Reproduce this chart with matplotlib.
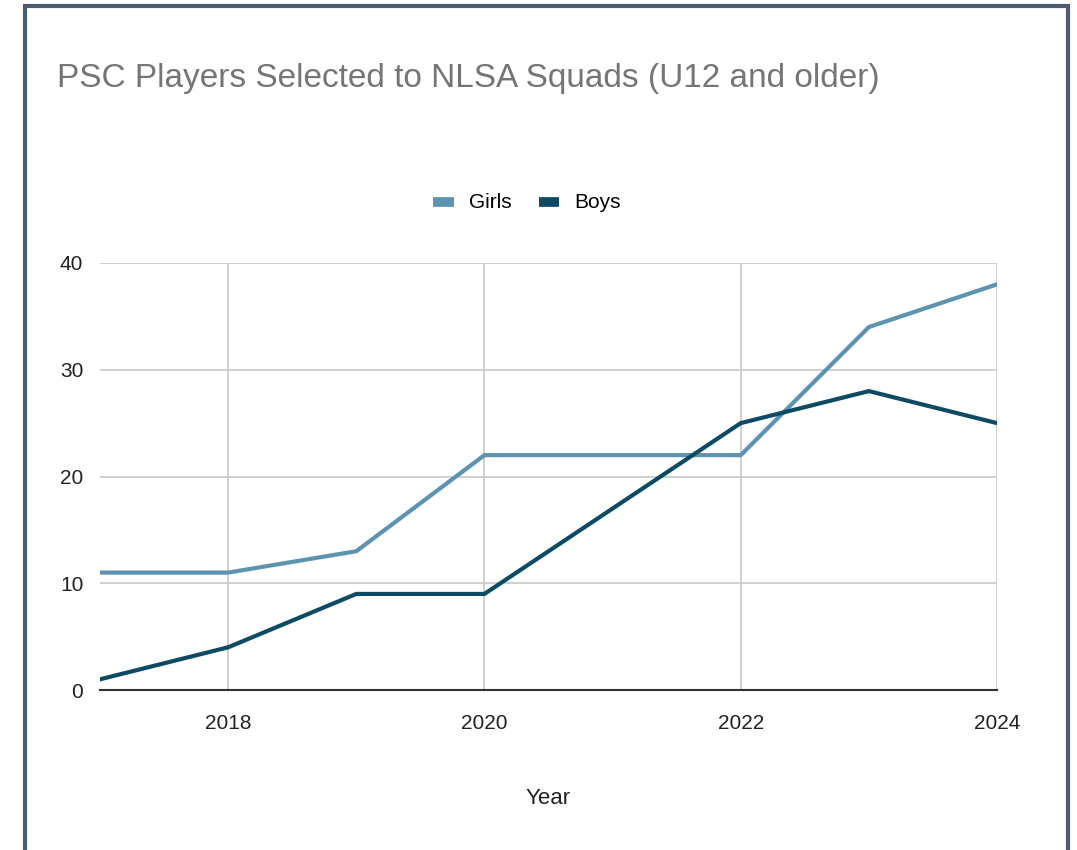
import matplotlib
matplotlib.use("Agg")
import matplotlib.pyplot as plt
from matplotlib.patches import Rectangle
from matplotlib import font_manager

years = [2017, 2018, 2019, 2020, 2021, 2022, 2023, 2024]
girls = [11, 11, 13, 22, 22, 22, 34, 38]
boys = [1, 4, 9, 9, 17, 25, 28, 25]
x_ticks = [2018, 2020, 2022, 2024]
y_ticks = [0, 10, 20, 30, 40]

names = {f.name for f in font_manager.fontManager.ttflist}
fam = ['Liberation Sans Narrow', 'Liberation Sans', 'DejaVu Sans']
fam = [f for f in fam if f in names] or ['DejaVu Sans']
plt.rcParams['font.family'] = fam

fig = plt.figure(figsize=(10.77, 8.5), dpi=100)
W, H = 1077, 850
ax = fig.add_axes([100 / W, 1 - 690 / H, 897 / W, 427 / H])

girls_c = '#5b93b1'
boys_c = '#0d4b64'
ax.plot(years, girls, color=girls_c, lw=3, label='Girls', solid_joinstyle='miter', zorder=3)
ax.plot(years, boys, color=boys_c, lw=3, label='Boys', solid_joinstyle='miter', zorder=4)

ax.set_xlim(2017, 2024)
ax.set_ylim(0, 40)
ax.set_xticks(x_ticks)
ax.set_yticks(y_ticks)
ax.grid(True, color='#cccccc', lw=1.3)
ax.set_axisbelow(True)
for s in ['top', 'right', 'left']:
    ax.spines[s].set_visible(False)
ax.spines['bottom'].set_color('#333333')
ax.spines['bottom'].set_linewidth(1.5)
ax.spines['bottom'].set_zorder(5)
ax.tick_params(length=0, labelsize=15, colors='#222222')
ax.tick_params(axis='x', pad=17)
ax.tick_params(axis='y', pad=12)
ax.set_xlabel('Year', fontsize=16, color='#222222', labelpad=40)

fig.text(57 / W, 1 - 79 / H, 'PSC Players Selected to NLSA Squads (U12 and older)',
         fontsize=24, color='#757575', ha='left', va='center')

leg = fig.legend(loc='center', bbox_to_anchor=(527 / W, 1 - 203 / H), ncol=2, frameon=False,
                 fontsize=15, handlelength=1.0, handleheight=0.6, columnspacing=1.3,
                 handletextpad=0.7)
for h in leg.get_lines():
    h.set_linewidth(7)
    h.set_solid_capstyle('butt')

fig.patches.append(Rectangle((25 / W, -0.1), (1068 - 25) / W, 1.1 - 6 / H,
                             transform=fig.transFigure, fill=False,
                             edgecolor='#4b5b72', lw=3))

fig.savefig('out.png', dpi=100, facecolor='white')
